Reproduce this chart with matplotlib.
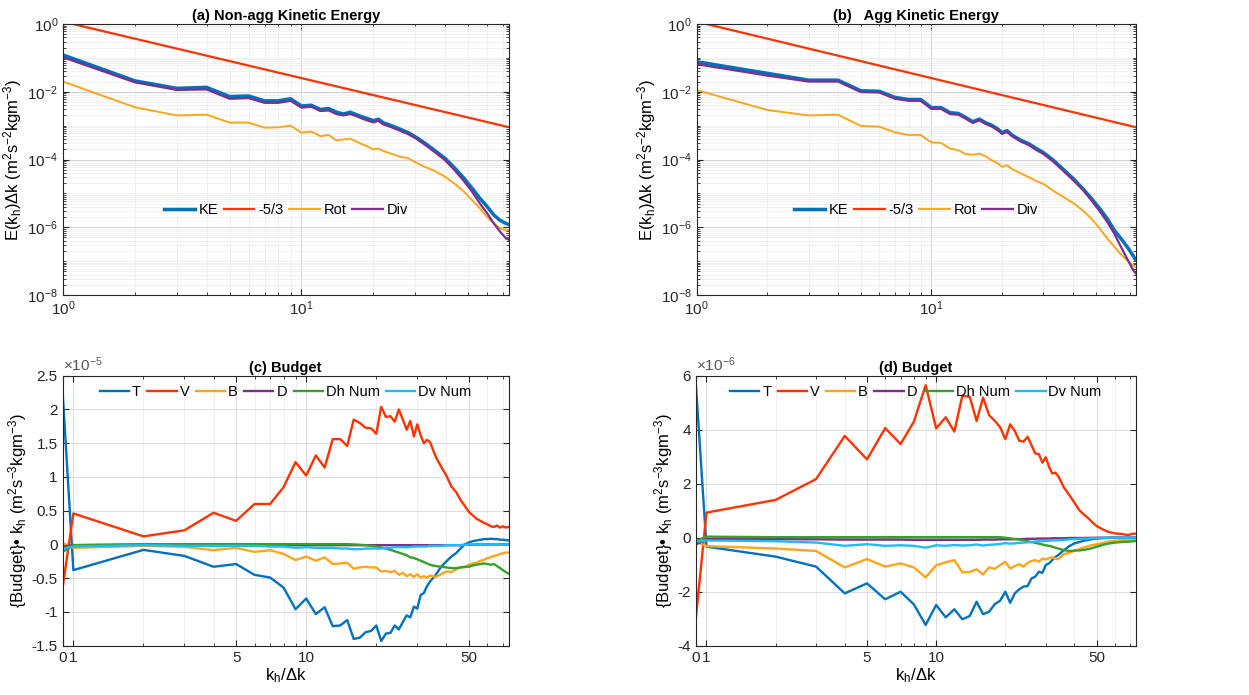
import numpy as np
import matplotlib
matplotlib.use("Agg")
import matplotlib.pyplot as plt
from matplotlib.ticker import FixedLocator, FixedFormatter, NullFormatter, LogLocator

plt.rcParams['font.family'] = ['Liberation Sans', 'DejaVu Sans']
plt.rcParams['mathtext.fontset'] = 'custom'
plt.rcParams['mathtext.rm'] = 'Liberation Sans'
plt.rcParams['mathtext.it'] = 'Liberation Sans:italic'
plt.rcParams['mathtext.default'] = 'regular'

# ---------------- spectra (top panels) ----------------
k_top = [1, 2, 3, 4, 5, 6, 7, 8, 9, 10, 11, 12, 13, 14, 15, 16, 17, 18, 19, 20, 21, 22,
         24, 26, 28, 30, 33, 36, 40, 44, 48, 52, 56, 60, 64, 68, 72, 74]

ke_a = [0.122, 0.021, 0.0126, 0.0135, 0.0072, 0.0075, 0.0054, 0.0054, 0.0062, 0.0038,
        0.0040, 0.0030, 0.0032, 0.0025, 0.0022, 0.0025, 0.0021, 0.0018, 0.0016, 0.0014,
        0.00155, 0.00122, 0.00098, 0.00078, 0.00062, 0.00047, 0.00030, 0.00019, 1.08e-4,
        5.5e-5, 2.8e-5, 1.4e-5, 7.1e-6, 4.1e-6, 2.3e-6, 1.6e-6, 1.3e-6, 1.2e-6]
div_a = [0.104, 0.019, 0.0113, 0.0117, 0.0062, 0.0065, 0.0047, 0.0047, 0.0054, 0.0034,
         0.0036, 0.0027, 0.0028, 0.0022, 0.0020, 0.0022, 0.0019, 0.0016, 0.0014, 0.00125,
         0.00138, 0.00109, 0.00088, 0.00070, 0.00056, 0.00043, 0.00027, 0.00017, 9.5e-5,
         4.7e-5, 2.3e-5, 1.1e-5, 5.0e-6, 2.6e-6, 1.3e-6, 7.4e-7, 4.7e-7, 4.3e-7]
rot_a = [0.020, 0.0035, 0.0020, 0.0021, 0.00123, 0.00123, 0.00087, 0.00089, 0.00100, 0.00062,
         0.00067, 0.00049, 0.00053, 0.00037, 0.00039, 0.00041, 0.00034, 0.00028, 0.00024, 0.00020,
         0.00021, 0.00018, 0.000145, 0.00012, 0.00011, 8.3e-5, 6.0e-5, 4.7e-5, 3.1e-5,
         1.9e-5, 1.12e-5, 6.3e-6, 3.6e-6, 2.0e-6, 1.3e-6, 9.3e-7, 8.3e-7, 8.3e-7]

ke_b = [0.077, 0.035, 0.022, 0.022, 0.0107, 0.0103, 0.0068, 0.0059, 0.0059, 0.0034,
        0.0034, 0.0024, 0.0023, 0.00174, 0.00131, 0.00156, 0.00122, 0.00104, 0.00083, 0.00062,
        0.00071, 0.00053, 3.7e-4, 2.9e-4, 2.1e-4, 1.6e-4, 9.6e-5, 5.5e-5, 2.8e-5,
        1.4e-5, 7.1e-6, 3.6e-6, 1.8e-6, 8.3e-7, 4.7e-7, 2.7e-7, 1.5e-7, 1.1e-7]
div_b = [0.065, 0.030, 0.020, 0.020, 0.0098, 0.0095, 0.0062, 0.0054, 0.0054, 0.0031,
         0.0031, 0.0022, 0.0021, 0.0016, 0.0012, 0.00143, 0.00112, 0.00095, 0.00076, 0.00057,
         0.00065, 0.00049, 3.4e-4, 2.65e-4, 1.9e-4, 1.45e-4, 8.7e-5, 5.0e-5, 2.5e-5,
         1.3e-5, 6.2e-6, 3.0e-6, 1.45e-6, 6.6e-7, 2.7e-7, 1.2e-7, 5.7e-8, 4.4e-8]
rot_b = [0.0112, 0.0029, 0.0020, 0.0021, 0.00098, 0.00093, 0.00063, 0.00053, 0.00053, 0.00032,
         0.00031, 0.00021, 0.00019, 0.000145, 0.000138, 0.00015, 0.000125, 9.6e-5, 8.0e-5, 6.1e-5,
         6.8e-5, 5.3e-5, 3.9e-5, 3.0e-5, 2.3e-5, 1.9e-5, 1.2e-5, 8.3e-6, 5.3e-6,
         3.2e-6, 1.8e-6, 9.3e-7, 4.7e-7, 2.7e-7, 1.6e-7, 1.07e-7, 7.6e-8, 6.8e-8]

# -5/3 reference line end points
ref_k = [1.1, 74]
ref_e = [1.0, 9.0e-4]

# ---------------- budgets (bottom panels) ----------------
k_bot = list(range(0, 35)) + list(range(36, 75, 2))

# panel (c), units of 1e-5
T_c = [2.24, -0.38, -0.08, -0.17, -0.33, -0.29, -0.45, -0.49, -0.64, -0.96, -0.80, -1.03, -0.93,
       -1.21, -1.20, -1.12, -1.40, -1.38, -1.30, -1.28, -1.20, -1.43, -1.32, -1.31, -1.20, -1.26,
       -1.15, -1.05, -1.08, -0.92, -0.95, -0.75, -0.72, -0.62, -0.55,
       -0.45, -0.33, -0.25, -0.18, -0.13, -0.06, 0.0, 0.03, 0.05, 0.06, 0.07, 0.08, 0.08, 0.085,
       0.08, 0.08, 0.07, 0.07, 0.065, 0.06]
V_c = [-0.63, 0.46, 0.12, 0.21, 0.47, 0.35, 0.60, 0.60, 0.85, 1.22, 1.02, 1.32, 1.14, 1.56, 1.56,
       1.46, 1.85, 1.80, 1.73, 1.72, 1.64, 2.04, 1.89, 1.90, 1.82, 2.0, 1.85, 1.70, 1.83, 1.60,
       1.78, 1.62, 1.50, 1.55, 1.52,
       1.30, 1.15, 1.02, 0.86, 0.78, 0.66, 0.57, 0.48, 0.43, 0.38, 0.35, 0.32, 0.30, 0.27, 0.26,
       0.28, 0.25, 0.27, 0.25, 0.26]
B_c = [0.02, -0.05, -0.02, -0.035, -0.085, -0.05, -0.11, -0.085, -0.14, -0.23, -0.18, -0.24, -0.19,
       -0.29, -0.28, -0.27, -0.36, -0.34, -0.33, -0.34, -0.34, -0.40, -0.39, -0.41, -0.39, -0.45,
       -0.42, -0.47, -0.44, -0.48, -0.44, -0.49, -0.47, -0.49, -0.46,
       -0.48, -0.44, -0.40, -0.41, -0.37, -0.34, -0.34, -0.30, -0.28, -0.27, -0.24, -0.23, -0.20,
       -0.19, -0.17, -0.16, -0.14, -0.13, -0.12, -0.12]
D_c = [-0.03, -0.01, -0.005, -0.005, -0.005, -0.005, -0.005, -0.005, -0.005, -0.01, -0.01, -0.01,
       -0.01, -0.01, -0.01, -0.01, -0.01, -0.01, -0.01, -0.01, -0.01, -0.01, -0.01, -0.01, -0.01,
       -0.01, -0.01, -0.01, -0.01, -0.01, -0.01, -0.01, -0.01, -0.01, -0.01,
       -0.01, -0.01, -0.01, -0.01, -0.01, -0.01, -0.005, -0.005, -0.005, 0.0, 0.0, 0.0, 0.0, 0.0,
       0.0, 0.0, 0.0, 0.0, 0.0, 0.0]
Dh_c = [-0.11, -0.01, 0.005, 0.005, 0.005, 0.005, 0.005, 0.005, 0.005, 0.005, 0.005, 0.005, 0.005,
        0.005, 0.005, 0.005, 0.0, -0.005, -0.01, -0.02, -0.03, -0.045, -0.06, -0.08, -0.10, -0.12,
        -0.14, -0.16, -0.19, -0.20, -0.22, -0.24, -0.26, -0.28, -0.30,
        -0.32, -0.33, -0.34, -0.35, -0.35, -0.34, -0.33, -0.33, -0.31, -0.30, -0.29, -0.28, -0.29,
        -0.30, -0.29, -0.32, -0.35, -0.38, -0.41, -0.43]
Dv_c = [-0.06, -0.03, -0.01, -0.02, -0.02, -0.02, -0.02, -0.03, -0.03, -0.05, -0.04, -0.05, -0.05,
        -0.05, -0.06, -0.06, -0.07, -0.07, -0.06, -0.06, -0.06, -0.06, -0.05, -0.05, -0.04, -0.04,
        -0.04, -0.04, -0.04, -0.03, -0.03, -0.03, -0.03, -0.03, -0.02,
        -0.02, -0.02, -0.01, -0.01, -0.01, -0.01, -0.005, 0.0, 0.0, 0.0, 0.0, 0.0, 0.0, 0.0,
        0.0, 0.0, 0.0, 0.0, 0.0, 0.0]

# panel (d), units of 1e-6
T_d = [5.65, -0.33, -0.70, -1.07, -2.06, -1.69, -2.28, -2.00, -2.47, -3.23, -2.49, -2.95, -2.65,
       -3.02, -2.90, -2.37, -2.83, -2.74, -2.46, -2.33, -2.00, -2.41, -2.06, -1.91, -1.81, -1.79,
       -1.51, -1.44, -1.26, -1.30, -1.01, -0.95, -0.83, -0.72, -0.64,
       -0.46, -0.31, -0.21, -0.16, -0.11, -0.08, -0.05, -0.03, -0.02, -0.01, -0.01, 0.0, 0.0,
       0.0, 0.0, 0.0, 0.0, 0.0, 0.0, 0.0]
V_d = [-2.95, 0.93, 1.40, 2.17, 3.77, 2.90, 4.06, 3.47, 4.30, 5.65, 4.05, 4.46, 3.93, 5.26, 5.22,
       4.32, 5.19, 4.54, 4.33, 4.09, 3.65, 4.20, 3.95, 3.59, 3.56, 3.74, 3.43, 3.12, 3.10, 2.78,
       2.98, 2.63, 2.38, 2.41, 2.28,
       1.86, 1.58, 1.30, 1.02, 0.86, 0.72, 0.56, 0.43, 0.35, 0.28, 0.22, 0.19, 0.16, 0.15, 0.14,
       0.12, 0.10, 0.12, 0.15, 0.15]
B_d = [-0.15, -0.31, -0.40, -0.49, -1.10, -0.79, -1.07, -0.95, -1.10, -1.47, -1.02, -0.91, -0.83,
       -1.28, -1.27, -1.17, -1.36, -1.10, -1.15, -1.01, -0.89, -1.14, -1.05, -0.98, -1.07, -0.93,
       -0.86, -0.83, -0.89, -0.77, -0.80, -0.76, -0.73, -0.77, -0.80,
       -0.60, -0.56, -0.48, -0.42, -0.36, -0.31, -0.27, -0.24, -0.21, -0.18, -0.15, -0.13, -0.11,
       -0.10, -0.09, -0.08, -0.07, -0.07, -0.06, -0.06]
D_d = [-0.25, -0.05, -0.05, -0.06, -0.07, -0.07, -0.07, -0.07, -0.08, -0.08, -0.08, -0.08, -0.08,
       -0.08, -0.08, -0.08, -0.07, -0.07, -0.07, -0.06, -0.06, -0.06, -0.05, -0.05, -0.05, -0.04,
       -0.04, -0.04, -0.03, -0.03, -0.03, -0.03, -0.02, -0.02, -0.02,
       -0.02, -0.01, -0.01, -0.01, -0.01, -0.005, -0.005, 0.0, 0.0, 0.0, 0.0, 0.0, 0.0, 0.0,
       0.0, 0.0, 0.0, 0.0, 0.0, 0.0]
Dh_d = [-0.12, 0.04, 0.02, 0.02, 0.02, 0.02, 0.02, 0.02, 0.02, 0.02, 0.02, 0.02, 0.02, 0.02, 0.02,
        0.02, 0.02, 0.02, 0.02, 0.02, 0.0, -0.02, -0.05, -0.07, -0.10, -0.13, -0.16, -0.19, -0.22,
        -0.25, -0.28, -0.30, -0.33, -0.37, -0.40,
        -0.46, -0.49, -0.48, -0.47, -0.45, -0.42, -0.38, -0.33, -0.29, -0.25, -0.22, -0.20, -0.18,
        -0.17, -0.16, -0.15, -0.15, -0.14, -0.13, -0.13]
Dv_d = [-0.15, -0.10, -0.13, -0.18, -0.30, -0.24, -0.30, -0.28, -0.30, -0.37, -0.28, -0.30, -0.27,
        -0.29, -0.28, -0.25, -0.29, -0.26, -0.25, -0.23, -0.20, -0.22, -0.21, -0.19, -0.18, -0.17,
        -0.16, -0.14, -0.13, -0.13, -0.12, -0.11, -0.10, -0.10, -0.09,
        -0.08, -0.06, -0.05, -0.04, -0.04, -0.03, -0.02, -0.02, -0.01, -0.01, -0.01, 0.0, 0.0,
        0.0, 0.0, 0.0, 0.0, 0.0, 0.0, 0.0]

# colours (matlab-ish)
c_blue = '#0072BD'
c_red = '#FF3300'
c_orange = '#FFA51A'
c_purple = '#7E2F8E'
c_green = '#35A02C'
c_cyan = '#1EBBF5'
axcol = '#262626'

fig = plt.figure(figsize=(12.49, 6.95), dpi=100)
ax_a = fig.add_axes([0.0504, 0.5755, 0.357, 0.390])
ax_b = fig.add_axes([0.5577, 0.5755, 0.3515, 0.390])
ax_c = fig.add_axes([0.0502, 0.0709, 0.357, 0.3885])
ax_d = fig.add_axes([0.5572, 0.0709, 0.3522, 0.3885])


def style_axes(ax):
    for s in ax.spines.values():
        s.set_color(axcol)
        s.set_linewidth(0.8)
    ax.tick_params(which='both', direction='in', top=True, right=True, colors=axcol,
                   labelsize=11)
    ax.tick_params(which='major', length=4)
    ax.tick_params(which='minor', length=2.5)


def spectrum_panel(ax, ke, rot, div, title):
    ax.plot(k_top, ke, color=c_blue, lw=2.5, label='KE')
    ax.plot(ref_k, ref_e, color=c_red, lw=1.6, label='-5/3')
    ax.plot(k_top, rot, color=c_orange, lw=1.4, label='Rot')
    ax.plot(k_top, div, color=c_purple, lw=1.6, label='Div')
    ax.set_xscale('log')
    ax.set_yscale('log')
    ax.set_xlim(1, 74)
    ax.set_ylim(1e-8, 1)
    ax.yaxis.set_major_locator(FixedLocator([1e-8, 1e-6, 1e-4, 1e-2, 1]))
    ax.yaxis.set_minor_locator(LogLocator(base=10, subs=np.arange(1, 10), numticks=20))
    ax.yaxis.set_minor_formatter(NullFormatter())
    ax.xaxis.set_minor_formatter(NullFormatter())
    ax.grid(True, which='major', color='#d4d4d4', lw=0.7)
    ax.grid(True, which='minor', color='#ebebeb', lw=0.5)
    ax.set_axisbelow(True)
    style_axes(ax)
    ax.set_title(title, fontsize=10.5, fontweight='bold', pad=3)
    ax.set_ylabel('E(k$_h$)Δk (m$^2$s$^{-2}$kgm$^{-3}$)', fontsize=12, labelpad=2)
    ax.legend(loc='center', bbox_to_anchor=(0.5, 0.315), ncol=4, frameon=False,
              fontsize=10.5, handlelength=2.1, handletextpad=0.25, columnspacing=0.4)


def budget_panel(ax, series, scale_txt, ylim, yticks, yticklabels, title):
    x = [0.9 if k == 0 else k for k in k_bot]
    names = ['T', 'V', 'B', 'D', 'Dh Num', 'Dv Num']
    cols = [c_blue, c_red, c_orange, c_purple, c_green, c_cyan]
    for y, n, c in zip(series, names, cols):
        ax.plot(x, y, color=c, lw=1.7, label=n)
    ax.set_xscale('log')
    ax.set_xlim(0.9, 74)
    ax.set_ylim(*ylim)
    ax.xaxis.set_major_locator(FixedLocator([0.9, 1, 5, 10, 50]))
    ax.xaxis.set_major_formatter(FixedFormatter(['0', '1', '5', '10', '50']))
    ax.xaxis.set_minor_locator(FixedLocator([2, 3, 4, 6, 7, 8, 9, 20, 30, 40, 60, 70]))
    ax.xaxis.set_minor_formatter(NullFormatter())
    ax.set_yticks(yticks)
    ax.set_yticklabels(yticklabels)
    ax.grid(True, which='major', color='#dcdcdc', lw=0.7)
    ax.grid(True, which='minor', axis='x', color='#ececec', lw=0.6)
    ax.set_axisbelow(True)
    style_axes(ax)
    ax.set_title(title, fontsize=10.5, fontweight='bold', pad=3)
    ax.set_ylabel('{Budget}• k$_h$ (m$^2$s$^{-3}$kgm$^{-3}$)', fontsize=12, labelpad=2)
    ax.set_xlabel('k$_h$/Δk', fontsize=12, labelpad=1)
    ax.text(0.0, 1.005, scale_txt, transform=ax.transAxes, ha='left', va='bottom',
            fontsize=11, color='#555555')
    ax.legend(loc='center', bbox_to_anchor=(0.5, 0.94), ncol=6, frameon=False,
              fontsize=10.5, handlelength=2.0, handletextpad=0.2, columnspacing=0.45)


spectrum_panel(ax_a, ke_a, rot_a, div_a, '(a) Non-agg Kinetic Energy')
spectrum_panel(ax_b, ke_b, rot_b, div_b, '(b)   Agg Kinetic Energy')

budget_panel(ax_c, [T_c, V_c, B_c, D_c, Dh_c, Dv_c], '×10$^{-5}$', (-1.5, 2.5),
             [-1.5, -1, -0.5, 0, 0.5, 1, 1.5, 2, 2.5],
             ['-1.5', '-1', '-0.5', '0', '0.5', '1', '1.5', '2', '2.5'], '(c) Budget')
budget_panel(ax_d, [T_d, V_d, B_d, D_d, Dh_d, Dv_d], '×10$^{-6}$', (-4, 6),
             [-4, -2, 0, 2, 4, 6], ['-4', '-2', '0', '2', '4', '6'], '(d) Budget')

fig.savefig('out.png', dpi=100)
